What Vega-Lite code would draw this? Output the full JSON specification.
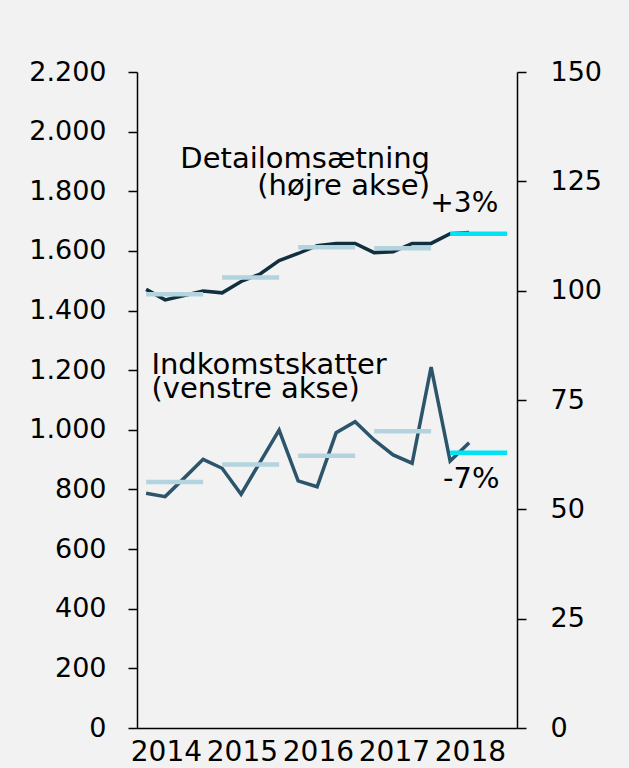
{
  "$schema": "https://vega.github.io/schema/vega-lite/v6.json",
  "width": 380,
  "height": 656,
  "autosize": "none",
  "padding": {"left": 137, "top": 72, "right": 112, "bottom": 40},
  "background": "#f2f2f2",
  "config": {
    "view": {"stroke": null},
    "font": "DejaVu Sans",
    "axis": {"labelFont": "DejaVu Sans", "labelFontSize": 27, "labelColor": "#000000", "domainColor": "#000000", "tickColor": "#000000", "domainWidth": 1.5, "tickWidth": 1.5, "grid": false, "title": null}
  },
  "datasets": {
    "skat": [
      {"t": 2014.00, "v": 787}, {"t": 2014.25, "v": 776}, {"t": 2014.50, "v": 838}, {"t": 2014.75, "v": 901},
      {"t": 2015.00, "v": 871}, {"t": 2015.25, "v": 784}, {"t": 2015.50, "v": 892}, {"t": 2015.75, "v": 999},
      {"t": 2016.00, "v": 829}, {"t": 2016.25, "v": 809}, {"t": 2016.50, "v": 990}, {"t": 2016.75, "v": 1027},
      {"t": 2017.00, "v": 966}, {"t": 2017.25, "v": 916}, {"t": 2017.50, "v": 888}, {"t": 2017.75, "v": 1210},
      {"t": 2018.00, "v": 895}, {"t": 2018.25, "v": 957}
    ],
    "detail": [
      {"t": 2014.00, "v": 100.3}, {"t": 2014.25, "v": 97.9}, {"t": 2014.50, "v": 98.9}, {"t": 2014.75, "v": 99.9},
      {"t": 2015.00, "v": 99.5}, {"t": 2015.25, "v": 102.1}, {"t": 2015.50, "v": 103.8}, {"t": 2015.75, "v": 106.9},
      {"t": 2016.00, "v": 108.5}, {"t": 2016.25, "v": 110.3}, {"t": 2016.50, "v": 110.8}, {"t": 2016.75, "v": 110.8},
      {"t": 2017.00, "v": 108.7}, {"t": 2017.25, "v": 108.9}, {"t": 2017.50, "v": 110.8}, {"t": 2017.75, "v": 110.8},
      {"t": 2018.00, "v": 113.0}, {"t": 2018.25, "v": 113.3}
    ],
    "skatAvg": [
      {"t": 2014, "t2": 2014.75, "v": 825, "kind": "tidligere"},
      {"t": 2015, "t2": 2015.75, "v": 884, "kind": "tidligere"},
      {"t": 2016, "t2": 2016.75, "v": 913, "kind": "tidligere"},
      {"t": 2017, "t2": 2017.75, "v": 995, "kind": "tidligere"},
      {"t": 2018, "t2": 2018.75, "v": 923, "kind": "2018"}
    ],
    "detailAvg": [
      {"t": 2014, "t2": 2014.75, "v": 99.2, "kind": "tidligere"},
      {"t": 2015, "t2": 2015.75, "v": 103.0, "kind": "tidligere"},
      {"t": 2016, "t2": 2016.75, "v": 109.9, "kind": "tidligere"},
      {"t": 2017, "t2": 2017.75, "v": 109.7, "kind": "tidligere"},
      {"t": 2018, "t2": 2018.75, "v": 113.0, "kind": "2018"}
    ],
    "skatText": [
      {"t": 2014.07, "v": 1186, "label": "Indkomstskatter\n(venstre akse)"},
      {"t": 2017.906, "v": 804, "label": "-7%"}
    ],
    "detailTextL": [
      {"t": 2017.74, "v": 118.1, "label": "+3%"}
    ],
    "detailTextR": [
      {"t": 2017.735, "v": 128.0, "label": "Detailomsætning\n(højre akse)"}
    ]
  },
  "encoding": {
    "x": {
      "field": "t", "type": "quantitative",
      "scale": {"domain": [2013.88, 2018.88], "nice": false, "zero": false},
      "axis": {"values": [2014.26, 2015.26, 2016.26, 2017.26, 2018.26], "labelExpr": "floor(datum.value)", "ticks": false, "labelPadding": 10, "labelFontSize": 28, "labelFlush": false}
    }
  },
  "layer": [
    {
      "layer": [
        {
          "data": {"name": "skat"},
          "mark": {"type": "line", "color": "#2c546b", "strokeWidth": 3.5},
          "encoding": {
            "y": {"field": "v", "type": "quantitative", "scale": {"domain": [0, 2200], "nice": false},
              "axis": {"orient": "left", "values": [0, 200, 400, 600, 800, 1000, 1200, 1400, 1600, 1800, 2000, 2200], "labelExpr": "replace(format(datum.value, ','), ',', '.')", "tickSize": 9, "labelPadding": 22}}
          }
        },
        {
          "data": {"name": "skatAvg"},
          "mark": {"type": "rule", "strokeWidth": 4.5},
          "encoding": {
            "x2": {"field": "t2"},
            "y": {"field": "v", "type": "quantitative"},
            "color": {"field": "kind", "type": "nominal", "scale": {"domain": ["tidligere", "2018"], "range": ["#b3d3de", "#00e3f5"]}, "legend": null}
          }
        },
        {
          "data": {"name": "skatText"},
          "mark": {"type": "text", "align": "left", "baseline": "alphabetic", "fontSize": 29, "lineBreak": "\n", "lineHeight": 24, "color": "#000000"},
          "encoding": {
            "y": {"field": "v", "type": "quantitative"},
            "text": {"field": "label"}
          }
        }
      ]
    },
    {
      "layer": [
        {
          "data": {"name": "detail"},
          "mark": {"type": "line", "color": "#10303f", "strokeWidth": 3.5},
          "encoding": {
            "y": {"field": "v", "type": "quantitative", "scale": {"domain": [0, 150], "nice": false},
              "axis": {"orient": "right", "values": [0, 25, 50, 75, 100, 125, 150], "tickSize": 9, "labelPadding": 24}}
          }
        },
        {
          "data": {"name": "detailAvg"},
          "mark": {"type": "rule", "strokeWidth": 4.5},
          "encoding": {
            "x2": {"field": "t2"},
            "y": {"field": "v", "type": "quantitative"},
            "color": {"field": "kind", "type": "nominal", "scale": {"domain": ["tidligere", "2018"], "range": ["#b3d3de", "#00e3f5"]}, "legend": null}
          }
        },
        {
          "data": {"name": "detailTextL"},
          "mark": {"type": "text", "align": "left", "baseline": "alphabetic", "fontSize": 28, "color": "#000000"},
          "encoding": {
            "y": {"field": "v", "type": "quantitative"},
            "text": {"field": "label"}
          }
        },
        {
          "data": {"name": "detailTextR"},
          "mark": {"type": "text", "align": "right", "baseline": "alphabetic", "fontSize": 29, "lineBreak": "\n", "lineHeight": 27, "color": "#000000"},
          "encoding": {
            "y": {"field": "v", "type": "quantitative"},
            "text": {"field": "label"}
          }
        }
      ]
    }
  ],
  "resolve": {"scale": {"y": "independent", "color": "shared"}}
}
